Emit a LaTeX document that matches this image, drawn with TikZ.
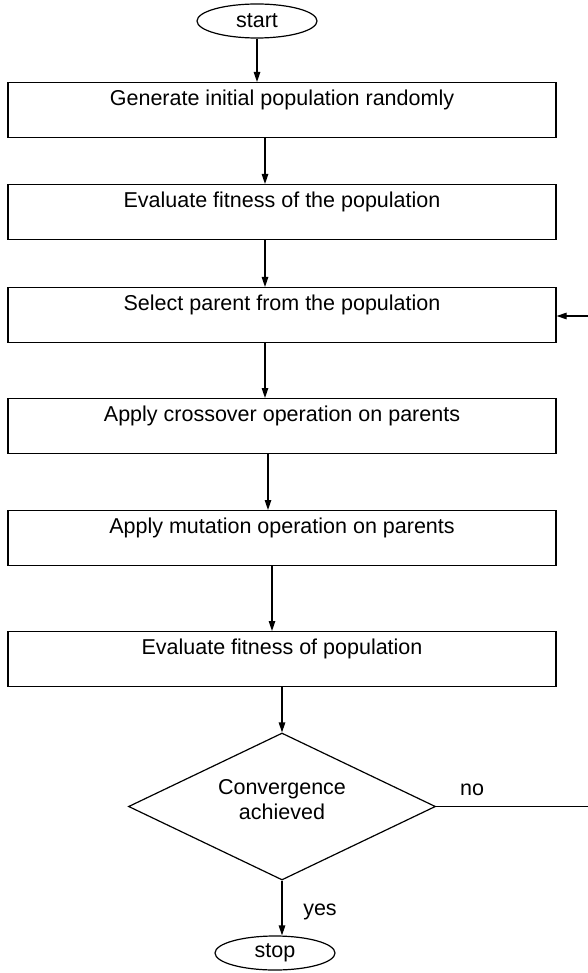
\documentclass[tikz,border=0pt]{standalone}
\usepackage{fontspec}
\setmainfont{Liberation Sans}
\usetikzlibrary{shapes.geometric,arrows.meta}
\tikzset{
  every node/.style={font=\fontsize{21.5}{25}\selectfont},
  stepbox/.style={draw, line width=1.2pt, rectangle, anchor=north, minimum width=548pt,
    inner xsep=0pt, inner ysep=0pt, text height=23pt, text depth=32pt},
  term/.style={draw, line width=1.2pt, ellipse, minimum width=120pt, minimum height=34pt, inner sep=0pt},
  decide/.style={draw, line width=1.2pt, diamond, minimum width=307pt, minimum height=147pt, inner sep=0pt},
  arr/.style={line width=1.2pt, -{Triangle[length=10pt,width=6.5pt]}},
  conn/.style={line width=1.2pt}
}
\begin{document}
\begin{tikzpicture}[x=1pt,y=-1pt]
\useasboundingbox (0,0) rectangle (587,973);
\fill[white] (0,0) rectangle (587,973);

\node[term] (start) at (257,21) {start};
\node[stepbox] (b1) at (282,82) {Generate initial population randomly};
\node[stepbox] (b2) at (282,184) {Evaluate fitness of the population};
\node[stepbox] (b3) at (282,287) {Select parent from the population};
\node[stepbox] (b4) at (282,398) {Apply crossover operation on parents};
\node[stepbox] (b5) at (282,510) {Apply mutation operation on parents};
\node[stepbox] (b6) at (282,631) {Evaluate fitness of population};
\node[decide] (conv) at (282,806.5) {};
\node[align=center] (convtext) at (282,800) {Convergence\\achieved};
\node[term] (stop) at (275,953) {stop};
\node[anchor=base] (nolab) at (472,795) {no};
\node[anchor=base] (yeslab) at (320,915) {yes};

\draw[arr] (start.south) -- (start.south |- b1.north);
\draw[arr] ([xshift=-17pt]b1.south) -- ([xshift=-17pt]b2.north);
\draw[arr] ([xshift=-17pt]b2.south) -- ([xshift=-17pt]b3.north);
\draw[arr] ([xshift=-17pt]b3.south) -- ([xshift=-17pt]b4.north);
\draw[arr] ([xshift=-14pt]b4.south) -- ([xshift=-14pt]b5.north);
\draw[arr] ([xshift=-10pt]b5.south) -- ([xshift=-10pt]b6.north);
\draw[arr] (b6.south) -- (conv.north);
\draw[arr] (conv.south) -- (conv.south |- stop.north);

\coordinate (fbcorner) at (590,806.5);
\coordinate (fbtop) at (590,316);
\draw[conn] (conv.east) -- (fbcorner) -- (fbtop);
\draw[arr] (fbtop) -- (b3.east |- fbtop);
\end{tikzpicture}
\end{document}
